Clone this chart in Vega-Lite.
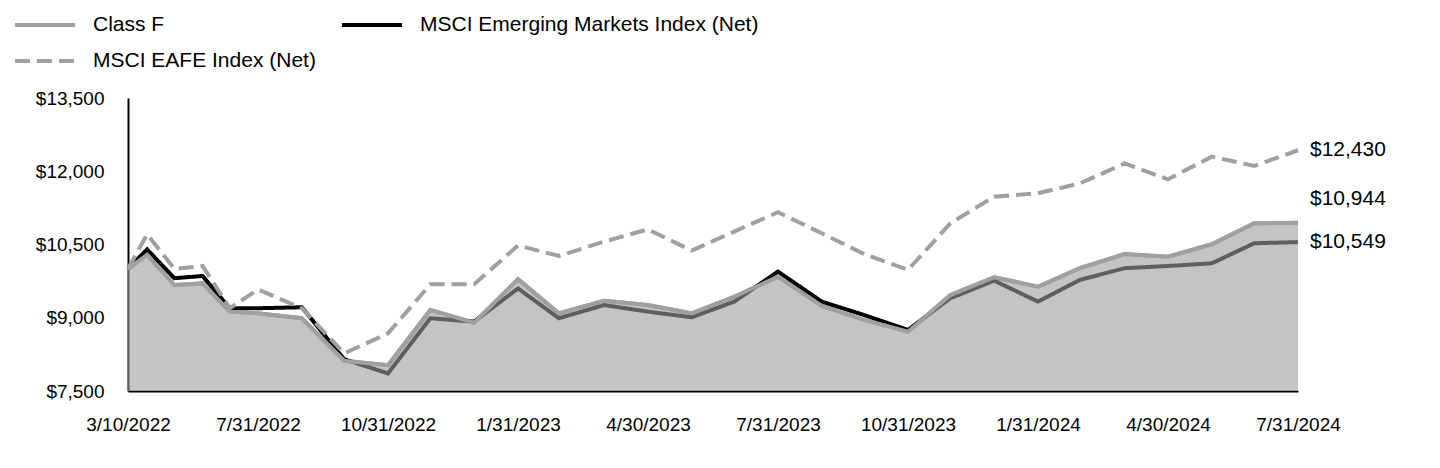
{
  "$schema": "https://vega.github.io/schema/vega-lite/v6.json",
  "width": 1170,
  "height": 293,
  "autosize": {"type": "none"},
  "padding": {"left": 128, "top": 98, "right": 142, "bottom": 77},
  "background": "white",
  "config": {"view": {"stroke": null}, "font": "Liberation Sans"},
  "data": {
    "format": {"parse": {"date": "date"}},
    "values": [
      {"date": "2022-03-10", "classF": 10000, "em": 10000, "eafe": 10000},
      {"date": "2022-03-31", "classF": 10290, "em": 10400, "eafe": 10710},
      {"date": "2022-04-30", "classF": 9670, "em": 9810, "eafe": 10000},
      {"date": "2022-05-31", "classF": 9705, "em": 9855, "eafe": 10060},
      {"date": "2022-06-30", "classF": 9125, "em": 9195, "eafe": 9195},
      {"date": "2022-07-31", "classF": 9090, "em": 9195, "eafe": 9580},
      {"date": "2022-08-31", "classF": 8990, "em": 9215, "eafe": 9195},
      {"date": "2022-09-30", "classF": 8120, "em": 8150, "eafe": 8270},
      {"date": "2022-10-31", "classF": 8030, "em": 7860, "eafe": 8680},
      {"date": "2022-11-30", "classF": 9160, "em": 8990, "eafe": 9685},
      {"date": "2022-12-31", "classF": 8900, "em": 8920, "eafe": 9685},
      {"date": "2023-01-31", "classF": 9790, "em": 9600, "eafe": 10480},
      {"date": "2023-02-28", "classF": 9090, "em": 8990, "eafe": 10265},
      {"date": "2023-03-31", "classF": 9350, "em": 9260, "eafe": 10560},
      {"date": "2023-04-30", "classF": 9260, "em": 9125, "eafe": 10810},
      {"date": "2023-05-31", "classF": 9090, "em": 9010, "eafe": 10375},
      {"date": "2023-06-30", "classF": 9430, "em": 9330, "eafe": 10765},
      {"date": "2023-07-31", "classF": 9840, "em": 9945, "eafe": 11160},
      {"date": "2023-08-31", "classF": 9240, "em": 9330, "eafe": 10730},
      {"date": "2023-09-30", "classF": 8955, "em": 9055, "eafe": 10305},
      {"date": "2023-10-31", "classF": 8715, "em": 8750, "eafe": 9980},
      {"date": "2023-11-30", "classF": 9465, "em": 9400, "eafe": 10935},
      {"date": "2023-12-31", "classF": 9830, "em": 9760, "eafe": 11480},
      {"date": "2024-01-31", "classF": 9635, "em": 9330, "eafe": 11550},
      {"date": "2024-02-29", "classF": 10015, "em": 9775, "eafe": 11750},
      {"date": "2024-03-31", "classF": 10305, "em": 10015, "eafe": 12160},
      {"date": "2024-04-30", "classF": 10250, "em": 10060, "eafe": 11835},
      {"date": "2024-05-31", "classF": 10505, "em": 10115, "eafe": 12300},
      {"date": "2024-06-30", "classF": 10935, "em": 10525, "eafe": 12110},
      {"date": "2024-07-31", "classF": 10944, "em": 10549, "eafe": 12430}
    ]
  },
  "encoding": {
    "x": {
      "field": "date",
      "type": "quantitative",
      "scale": {
        "type": "linear",
        "nice": false,
        "zero": false,
        "domain": [1646870400000, 1659225600000, 1667174400000, 1675123200000, 1682812800000, 1690761600000, 1698710400000, 1706659200000, 1714435200000, 1722384000000],
        "range": [0, 130, 260, 390, 520, 650, 780, 910, 1040, 1170]
      },
      "axis": {
        "title": null,
        "values": [1646870400000, 1659225600000, 1667174400000, 1675123200000, 1682812800000, 1690761600000, 1698710400000, 1706659200000, 1714435200000, 1722384000000],
        "labelExpr": "utcFormat(datum.value, '%-m/%-d/%Y')",
        "ticks": false,
        "tickSize": 0,
        "grid": false,
        "labelPadding": 24,
        "labelFontSize": 19,
        "labelFont": "Liberation Sans",
        "labelColor": "#000000",
        "labelFlush": false,
        "labelOverlap": false,
        "domainColor": "#000000",
        "domainWidth": 2
      }
    }
  },
  "layer": [
    {
      "transform": [{"fold": ["classF", "em", "eafe"], "as": ["series", "value"]}],
      "mark": {"type": "line", "strokeWidth": 4},
      "encoding": {
        "y": {
          "field": "value",
          "type": "quantitative",
          "scale": {"domain": [7500, 13500], "nice": false, "zero": false},
          "axis": {
            "title": null,
            "values": [7500, 9000, 10500, 12000, 13500],
            "format": "$,.0f",
            "ticks": false,
            "tickSize": 0,
            "grid": false,
            "labelPadding": 24,
            "labelFontSize": 19,
            "labelFont": "Liberation Sans",
            "labelColor": "#000000",
            "domainColor": "#000000",
            "domainWidth": 2
          }
        },
        "color": {
          "field": "series",
          "type": "nominal",
          "scale": {"domain": ["classF", "eafe", "em"], "range": ["#a0a0a0", "#a0a0a0", "#000000"]},
          "legend": {
            "orient": "none",
            "legendX": -115,
            "legendY": -84,
            "columns": 2,
            "title": null,
            "symbolType": "stroke",
            "symbolSize": 3600,
            "symbolStrokeWidth": 4,
            "labelFontSize": 21,
            "labelFont": "Liberation Sans",
            "labelColor": "#000000",
            "labelLimit": 0,
            "clipHeight": 22,
            "rowPadding": 14,
            "columnPadding": 24,
            "labelOffset": 16,
            "labelExpr": "datum.value == 'classF' ? 'Class F' : datum.value == 'em' ? 'MSCI Emerging Markets Index (Net)' : 'MSCI EAFE Index (Net)'"
          }
        },
        "strokeDash": {
          "field": "series",
          "type": "nominal",
          "scale": {"domain": ["classF", "eafe", "em"], "range": [[1, 0], [15, 7], [1, 0]]},
          "legend": {
            "orient": "none",
            "legendX": -115,
            "legendY": -84,
            "columns": 2,
            "title": null,
            "symbolType": "stroke",
            "symbolSize": 3600,
            "symbolStrokeWidth": 4,
            "labelFontSize": 21,
            "labelFont": "Liberation Sans",
            "labelColor": "#000000",
            "labelLimit": 0,
            "clipHeight": 22,
            "rowPadding": 14,
            "columnPadding": 24,
            "labelOffset": 16,
            "labelExpr": "datum.value == 'classF' ? 'Class F' : datum.value == 'em' ? 'MSCI Emerging Markets Index (Net)' : 'MSCI EAFE Index (Net)'"
          }
        }
      }
    },
    {
      "mark": {"type": "area", "color": "#9d9d9d", "opacity": 0.6},
      "encoding": {
        "y": {"field": "classF", "type": "quantitative"},
        "y2": {"datum": 7500}
      }
    },
    {
      "mark": {"type": "line", "color": "#a0a0a0", "strokeWidth": 4},
      "encoding": {
        "y": {"field": "classF", "type": "quantitative"}
      }
    },
    {
      "transform": [
        {"filter": "utcyear(datum.date) == 2024 && utcmonth(datum.date) == 6"},
        {"fold": ["eafe", "em"], "as": ["series", "value"]}
      ],
      "mark": {"type": "text", "align": "left", "baseline": "middle", "dx": 12, "fontSize": 21, "font": "Liberation Sans", "color": "#000000"},
      "encoding": {
        "y": {"field": "value", "type": "quantitative"},
        "text": {"field": "value", "type": "quantitative", "format": "$,.0f"}
      }
    },
    {
      "transform": [
        {"filter": "utcyear(datum.date) == 2024 && utcmonth(datum.date) == 6"}
      ],
      "mark": {"type": "text", "align": "left", "baseline": "middle", "dx": 12, "dy": -24, "fontSize": 21, "font": "Liberation Sans", "color": "#000000"},
      "encoding": {
        "y": {"field": "classF", "type": "quantitative"},
        "text": {"field": "classF", "type": "quantitative", "format": "$,.0f"}
      }
    }
  ]
}
